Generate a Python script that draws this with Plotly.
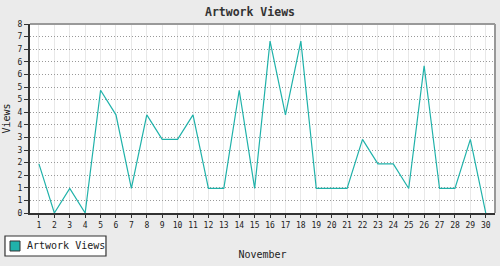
import plotly.graph_objects as go

days = list(range(1, 31))
views = [2, 0, 1, 0, 5, 4, 1, 4, 3, 3, 4, 1, 1, 5, 1, 7, 4, 7, 1, 1, 1, 3, 2, 2, 1, 6, 1, 1, 3, 0]
series_name = "Artwork Views"
title_text = "Artwork Views"
x_title = "November"
y_title = "Views"
y_max = 7.7
y_tick_count = 15

y_tickvals = [y_max * k / y_tick_count for k in range(y_tick_count + 1)]
y_ticktext = [str(int(round(v))) for v in y_tickvals]

teal = "#20b2aa"
mono = "DejaVu Sans Mono"

fig = go.Figure()
fig.add_trace(go.Scatter(x=days, y=views, mode="lines", line=dict(color=teal, width=1.2),
                         showlegend=False, name=series_name))

fig.update_layout(
    width=500, height=266,
    margin=dict(l=30, r=5, t=24, b=53, autoexpand=False),
    paper_bgcolor="#ebebeb",
    plot_bgcolor="#ffffff",
    title=dict(text="<b>" + title_text + "</b>", x=0.5, xanchor="center", y=0.955, yanchor="middle",
               font=dict(family=mono, size=11.5, color="#333333")),
    font=dict(family=mono, size=8, color="#222222"),
    showlegend=False,
)

fig.update_xaxes(
    range=[0.42, 30.6], tickvals=days, ticktext=[str(d) for d in days],
    showgrid=True, gridcolor="#e8e8e8", gridwidth=1,
    showline=True, linecolor="#333333", linewidth=2,
    ticks="outside", ticklen=3, tickcolor="#333333",
    zeroline=False, automargin=False,
    title=dict(text=x_title, font=dict(family=mono, size=10, color="#222222"), standoff=22),
)
fig.update_yaxes(
    range=[0, y_max], tickvals=y_tickvals, ticktext=y_ticktext,
    showgrid=True, gridcolor="#999999", gridwidth=1, griddash="1px,2px",
    showline=True, linecolor="#333333", linewidth=2,
    ticks="outside", ticklen=4, tickcolor="#333333",
    zeroline=False, automargin=False,
    title=dict(text=y_title, font=dict(family=mono, size=10, color="#222222"), standoff=5),
)
# gray top/right frame
fig.add_shape(type="line", xref="paper", yref="paper", x0=0, x1=1, y0=1, y1=1,
              line=dict(color="#999999", width=2))
fig.add_shape(type="line", xref="paper", yref="paper", x0=1, x1=1, y0=0, y1=1,
              line=dict(color="#999999", width=2))

# legend box (drawn manually to match layout)
fig.add_shape(type="rect", xref="paper", yref="paper", x0=-0.0538, x1=0.1634, y0=-0.2275, y1=-0.1217,
              fillcolor="#ffffff", line=dict(color="#333333", width=1.2))
fig.add_shape(type="rect", xref="paper", yref="paper", x0=-0.043, x1=-0.0215, y0=-0.201, y1=-0.1481,
              fillcolor=teal, line=dict(color="#333333", width=1))
fig.add_annotation(xref="paper", yref="paper", x=-0.0108, y=-0.1746, xanchor="left", yanchor="middle",
                   text=series_name, showarrow=False,
                   font=dict(family=mono, size=10, color="#222222"))

fig.write_html("out.html")
